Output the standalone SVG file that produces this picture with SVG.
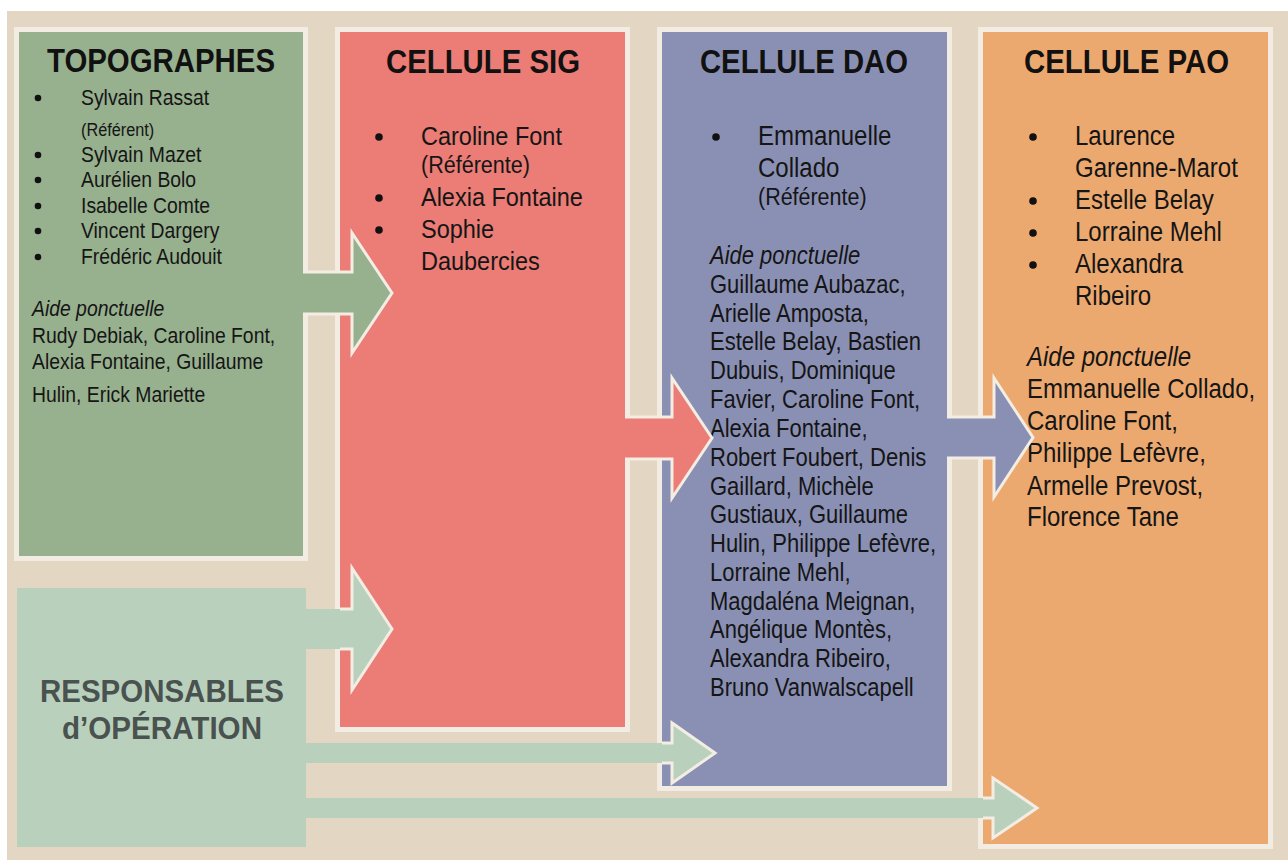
<svg xmlns="http://www.w3.org/2000/svg" width="1288" height="861" viewBox="0 0 1288 861">
<style>
.frame{fill:#F2ECE2}
.t{font-family:"Liberation Sans",Arial,sans-serif;fill:#151515}
.title{font-family:"Liberation Sans",Arial,sans-serif;font-weight:bold;font-size:33px;fill:#111}
.resp{font-family:"Liberation Sans",Arial,sans-serif;font-weight:bold;font-size:32px;fill:#4A5250}
.it{font-style:italic}
.bul{fill:#111}
.hs{fill:none;stroke:#F3EDE3;stroke-width:3;stroke-linejoin:miter}
</style>
<rect x="0" y="0" width="1288" height="861" fill="#FFFFFF"/>
<rect x="7" y="11" width="1281" height="849" fill="#E3D7C4"/>

<g id="topographes">
<rect class="frame" x="14" y="27" width="294" height="534"/>
<rect x="19" y="32" width="284" height="524" fill="#97B08E"/>
<text class="title" x="47" y="72" textLength="228" lengthAdjust="spacingAndGlyphs">TOPOGRAPHES</text>
<circle class="bul" cx="38" cy="98" r="3.3"/>
<circle class="bul" cx="38" cy="155" r="3.3"/>
<circle class="bul" cx="38" cy="180" r="3.3"/>
<circle class="bul" cx="38" cy="206" r="3.3"/>
<circle class="bul" cx="38" cy="231" r="3.3"/>
<circle class="bul" cx="38" cy="257" r="3.3"/>
<g class="t" font-size="22" transform="translate(81 0) scale(0.88 1)">
<text y="105">Sylvain Rassat</text>
<text y="136" font-size="18.5">(Référent)</text>
<text y="162">Sylvain Mazet</text>
<text y="187">Aurélien Bolo</text>
<text y="213">Isabelle Comte</text>
<text y="238">Vincent Dargery</text>
<text y="264">Frédéric Audouit</text>
</g>
<g class="t" font-size="22" transform="translate(32 0) scale(0.88 1)">
<text y="316" class="it">Aide ponctuelle</text>
<text y="343">Rudy Debiak, Caroline Font,</text>
<text y="369">Alexia Fontaine, Guillaume</text>
<text y="402">Hulin, Erick Mariette</text>
</g>
</g>

<g id="responsables">
<rect x="17" y="588" width="289" height="259" fill="#B9D1BC"/>
<text class="resp" x="40" y="702" textLength="244" lengthAdjust="spacingAndGlyphs">RESPONSABLES</text>
<text class="resp" x="62" y="739" textLength="200" lengthAdjust="spacingAndGlyphs">d’OPÉRATION</text>
</g>

<g id="cellule-sig">
<rect class="frame" x="335" y="27" width="295" height="705"/>
<rect x="340" y="32" width="285" height="695" fill="#EB7C76"/>
<text class="title" x="386" y="73" textLength="194" lengthAdjust="spacingAndGlyphs">CELLULE SIG</text>
<circle class="bul" cx="379" cy="137" r="3.8"/>
<circle class="bul" cx="379" cy="198" r="3.8"/>
<circle class="bul" cx="379" cy="230" r="3.8"/>
<g class="t" font-size="26.7" transform="translate(421 0) scale(0.88 1)">
<text y="145">Caroline Font</text>
<text y="173" font-size="24.5">(Référente)</text>
<text y="206">Alexia Fontaine</text>
<text y="238">Sophie</text>
<text y="270">Daubercies</text>
</g>
</g>

<g id="cellule-dao">
<rect class="frame" x="657" y="27" width="295" height="764"/>
<rect x="662" y="32" width="285" height="754" fill="#8A90B4"/>
<text class="title" x="700" y="73" textLength="208" lengthAdjust="spacingAndGlyphs">CELLULE DAO</text>
<circle class="bul" cx="716" cy="137" r="3.8"/>
<g class="t" font-size="27.3" transform="translate(758 0) scale(0.88 1)">
<text y="145">Emmanuelle</text>
<text y="177">Collado</text>
<text y="205" font-size="24.4">(Référente)</text>
</g>
<g class="t" font-size="25" transform="translate(710 0) scale(0.88 1)">
<text y="264" class="it">Aide ponctuelle</text>
<text y="293">Guillaume Aubazac,</text>
<text y="322">Arielle Amposta,</text>
<text y="350">Estelle Belay, Bastien</text>
<text y="379">Dubuis, Dominique</text>
<text y="408">Favier, Caroline Font,</text>
<text y="437">Alexia Fontaine,</text>
<text y="466">Robert Foubert, Denis</text>
<text y="495">Gaillard, Michèle</text>
<text y="523">Gustiaux, Guillaume</text>
<text y="552">Hulin, Philippe Lefèvre,</text>
<text y="581">Lorraine Mehl,</text>
<text y="610">Magdaléna Meignan,</text>
<text y="638">Angélique Montès,</text>
<text y="667">Alexandra Ribeiro,</text>
<text y="696">Bruno Vanwalscapell</text>
</g>
</g>

<g id="cellule-pao">
<rect class="frame" x="978" y="27" width="295" height="822"/>
<rect x="983" y="32" width="285" height="812" fill="#ECA96F"/>
<text class="title" x="1024" y="73" textLength="205" lengthAdjust="spacingAndGlyphs">CELLULE PAO</text>
<circle class="bul" cx="1033" cy="137" r="3.8"/>
<circle class="bul" cx="1033" cy="201" r="3.8"/>
<circle class="bul" cx="1033" cy="233" r="3.8"/>
<circle class="bul" cx="1033" cy="265" r="3.8"/>
<g class="t" font-size="27.3" transform="translate(1075 0) scale(0.88 1)">
<text y="145">Laurence</text>
<text y="177">Garenne-Marot</text>
<text y="209">Estelle Belay</text>
<text y="241">Lorraine Mehl</text>
<text y="273">Alexandra</text>
<text y="305">Ribeiro</text>
</g>
<g class="t" font-size="27.3" transform="translate(1027 0) scale(0.88 1)">
<text y="366" class="it">Aide ponctuelle</text>
<text y="398">Emmanuelle Collado,</text>
<text y="430">Caroline Font,</text>
<text y="462">Philippe Lefèvre,</text>
<text y="495">Armelle Prevost,</text>
<text y="526">Florence Tane</text>
</g>
</g>

<g id="connectors">
<path d="M303,272 H352 V233 L392,293 L352,353 V314 H303 Z" fill="#97B08E"/>
<path class="hs" d="M303,272 H352 V233 L392,293 L352,353 V314 H303"/>
<path d="M625,417 H672 V378 L712,438 L672,498 V459 H625 Z" fill="#EB7C76"/>
<path class="hs" d="M625,417 H672 V378 L712,438 L672,498 V459 H625"/>
<path d="M947,417 H994 V378 L1033,437.5 L994,497 V458 H947 Z" fill="#8A90B4"/>
<path class="hs" d="M947,417 H994 V378 L1033,437.5 L994,497 V458 H947"/>
<path d="M306,609 H352 V568 L392,629 L352,690 V649 H306 Z" fill="#B9D1BC"/>
<path class="hs" d="M340,609 H352 V568 L392,629 L352,690 V649 H340"/>
<path d="M306,743 H672 V723 L715,753 L672,783 V763 H306 Z" fill="#B9D1BC"/>
<path class="hs" d="M662,743 H672 V723 L715,753 L672,783 V763 H662"/>
<path d="M306,798 H993 V778 L1037,808 L993,838 V818 H306 Z" fill="#B9D1BC"/>
<path class="hs" d="M983,798 H993 V778 L1037,808 L993,838 V818 H983"/>
</g>
</svg>
